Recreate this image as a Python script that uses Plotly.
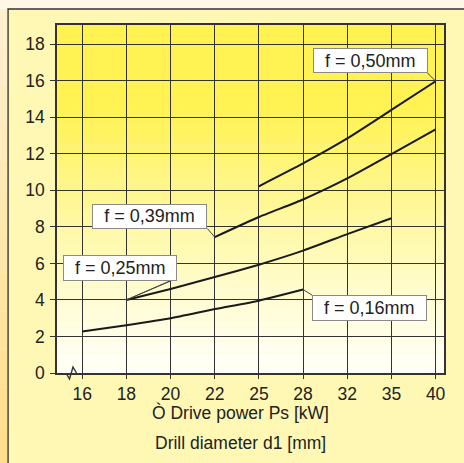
import plotly.graph_objects as go

# x categories (equally spaced on the chart)
diameters = ["16", "18", "20", "22", "25", "28", "32", "35", "40"]

# drive power Ps [kW] per feed (None = no value)
f016 = [2.27, 2.62, 3.0, 3.5, 3.96, 4.57, None, None, None]
f025 = [None, 4.0, 4.6, 5.25, 5.93, 6.7, 7.6, 8.47, None]
f039 = [None, None, None, 7.44, 8.54, 9.5, 10.65, 11.98, 13.33]
f050 = [None, None, None, None, 10.22, 11.47, 12.84, 14.4, 15.97]

labels = ["f = 0,16mm", "f = 0,25mm", "f = 0,39mm", "f = 0,50mm"]

W, H = 464, 463
L, R, T, B = 57, 20, 25, 90
X_RANGE = [-0.57, 8.19]
Y_RANGE = [0, 19.05]

plot_w = W - L - R
plot_h = H - T - B


def px_paper(px, py):
    return (px - L) / plot_w, (H - B - py) / plot_h


def px_data(px, py):
    x = X_RANGE[0] + (px - L) / plot_w * (X_RANGE[1] - X_RANGE[0])
    y = Y_RANGE[0] + (H - B - py) / plot_h * (Y_RANGE[1] - Y_RANGE[0])
    return x, y


def mix(c0, c1, t):
    return "rgb(%d,%d,%d)" % tuple(round(a + (b - a) * t) for a, b in zip(c0, c1))


fig = go.Figure()

for vals in [f016, f025, f039, f050]:
    fig.add_trace(go.Scatter(
        x=diameters, y=vals, mode="lines",
        line=dict(color="#1a1a1a", width=2, shape="spline", smoothing=0.5),
        connectgaps=False, hoverinfo="skip", showlegend=False
    ))

shapes = []

# outer panel
x0, y0 = px_paper(8, 9)
x1, y1 = px_paper(480, 480)
shapes.append(dict(type="rect", xref="paper", yref="paper", x0=x0, y0=y1, x1=x1, y1=y0,
                   fillcolor="#FFF8B4", line=dict(color="#333333", width=1.5), layer="below"))
# left orange strip
for i in range(12):
    ya = 9 + i * (H - 9) / 12
    yb = 9 + (i + 1) * (H - 9) / 12
    xa, pa = px_paper(-4, ya)
    xb, pb = px_paper(7.2, yb)
    shapes.append(dict(type="rect", xref="paper", yref="paper", x0=xa, y0=pb, x1=xb, y1=pa,
                       fillcolor=mix((255, 240, 205), (255, 222, 140), i / 11),
                       line=dict(width=0), layer="below"))

# plot area gradient
top_c = (255, 242, 82)
bot_c = (255, 255, 248)
n = 40
g_top = 14.3
for i in range(n):
    ya = g_top * i / n
    yb = g_top * (i + 1) / n
    t = (i + 0.5) / n
    shapes.append(dict(type="rect", xref="paper", yref="y", x0=0, x1=1, y0=ya, y1=yb,
                       fillcolor=mix(bot_c, top_c, t ** 1.2), line=dict(width=0), layer="below"))
shapes.append(dict(type="rect", xref="paper", yref="y", x0=0, x1=1, y0=g_top, y1=Y_RANGE[1],
                   fillcolor=mix(bot_c, top_c, 1), line=dict(width=0), layer="below"))

# axis break zigzag
zz = [(66, 373), (69.5, 379), (73, 367), (76.5, 373)]
pts = [px_paper(*p) for p in zz]
path = "M " + " L ".join("%f,%f" % p for p in pts)
shapes.append(dict(type="path", xref="paper", yref="paper", path=path,
                   line=dict(color="#333333", width=1.4)))

# label boxes (pixel boxes: left, right, top, bottom) and leader lines
boxes = {
    "f = 0,50mm": (312.7, 427.3, 47.7, 72.7),
    "f = 0,39mm": (92.3, 207.3, 204, 228.5),
    "f = 0,25mm": (62.3, 176.7, 254.7, 280.3),
    "f = 0,16mm": (312, 426.7, 295.3, 321),
}
leaders = [
    ((427.3, 72.7), ("40", f050[8])),
    ((207.3, 228.5), ("22", f039[3])),
    ((171.7, 280.5), ("18", f025[1])),
    ((176.7, 278.0), ("18", f025[1])),
    ((312.3, 295.3), ("28", f016[5])),
]
for (bx, by), (cx, cy) in leaders:
    dx, dy = px_data(bx, by)
    shapes.append(dict(type="line", xref="x", yref="y", x0=dx, y0=dy,
                       x1=diameters.index(cx), y1=cy,
                       line=dict(color="#444444", width=1)))

annotations = []
for text in labels:
    l, r, t, b = boxes[text]
    cx, cy = px_data((l + r) / 2, (t + b) / 2)
    annotations.append(dict(
        x=cx, y=cy, xref="x", yref="y", text=text, showarrow=False,
        xanchor="center", yanchor="middle", width=r - l - 2, height=b - t - 2,
        bgcolor="white", bordercolor="#8a8a8a", borderwidth=1, borderpad=0,
        font=dict(size=18, color="#222222")
    ))

for text, py in [("Ò Drive power Ps [kW]", 412), ("Drill diameter d1 [mm]", 443)]:
    ax, ay = px_paper(240, py)
    annotations.append(dict(x=ax, y=ay, xref="paper", yref="paper", text=text,
                            showarrow=False, xanchor="center", yanchor="middle",
                            font=dict(size=17.5, color="#222222")))

fig.update_layout(
    width=W, height=H,
    margin=dict(l=L, r=R, t=T, b=B, pad=0),
    paper_bgcolor="#FFF7E6",
    plot_bgcolor="rgba(0,0,0,0)",
    font=dict(family="Liberation Sans, Arial, sans-serif", size=17, color="#222222"),
    shapes=shapes,
    annotations=annotations,
    showlegend=False,
)
fig.update_xaxes(
    type="category", categoryorder="array", categoryarray=diameters,
    range=X_RANGE, showgrid=True, gridcolor="#333333", gridwidth=1,
    showline=True, linecolor="#333333", linewidth=1.5, mirror=True,
    ticks="outside", ticklen=4, tickcolor="#333333", tickfont=dict(size=17.5),
    fixedrange=True
)
fig.update_yaxes(
    range=Y_RANGE, dtick=2, tick0=0, showgrid=True, gridcolor="#333333", gridwidth=1,
    showline=True, linecolor="#333333", linewidth=1.5, mirror=True,
    ticks="outside", ticklen=5, tickcolor="#333333", tickfont=dict(size=17.5),
    zeroline=False, ticklabelstandoff=2, fixedrange=True
)

fig.write_html("out.html", config={"displayModeBar": False},
               post_script="document.body.style.margin='0';document.body.style.overflow='hidden';")
